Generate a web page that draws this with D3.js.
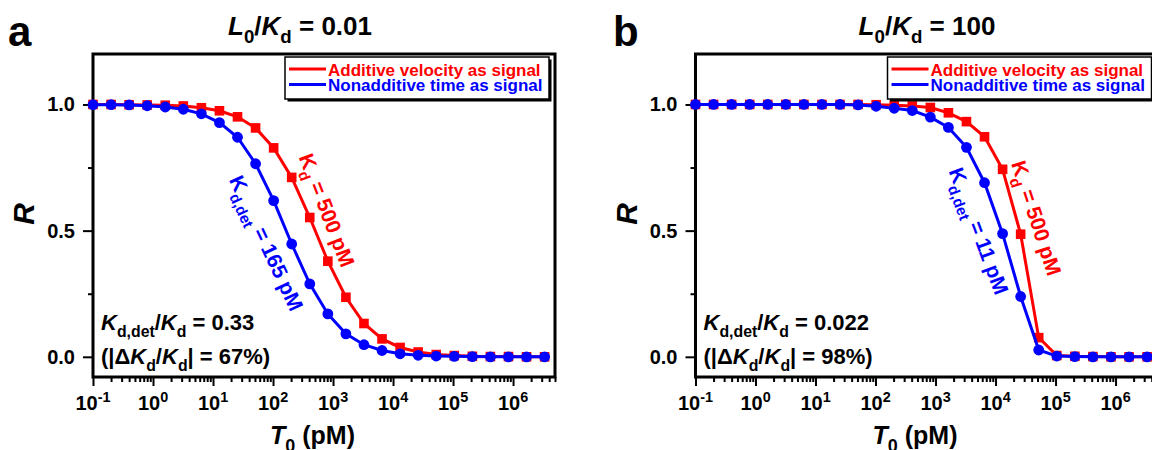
<!DOCTYPE html>
<html>
<head>
<meta charset="utf-8">
<script src="https://cdn.jsdelivr.net/npm/d3@7"></script>
<style>
  html, body { margin: 0; padding: 0; background: #fff; overflow: hidden; }
  svg { display: block; font-family: "Liberation Sans", Arial, sans-serif; font-weight: bold; }
</style>
</head>
<body>
<svg id="chart" width="1152" height="450"></svg>
<script>
// Total target concentration T0 (pM): two-fold dilution series
const T0 = [0.1, 0.2, 0.4, 0.8, 1.6, 3.2, 6.4, 12.8, 25.6, 51.2, 102.4, 204.8, 409.6,
            819.2, 1638.4, 3276.8, 6553.6, 13107.2, 26214.4, 52428.8, 104857.6,
            209715.2, 419430.4, 838860.8, 1677721.6, 3355443.2];

// Panel a (L0/Kd = 0.01)
const redA  = [1.000, 1.000, 0.999, 0.998, 0.997, 0.994, 0.987, 0.975, 0.951, 0.907, 0.828,
               0.711, 0.552, 0.379, 0.236, 0.132, 0.071, 0.037, 0.019, 0.009, 0.005,
               0.002, 0.001, 0.001, 0.000, 0.000];
const blueA = [0.999, 0.999, 0.998, 0.995, 0.990, 0.981, 0.963, 0.928, 0.870, 0.765, 0.619,
               0.447, 0.289, 0.170, 0.091, 0.048, 0.025, 0.012, 0.006, 0.003, 0.002,
               0.001, 0.000, 0.000, 0.000, 0.000];

// Panel b (L0/Kd = 100)
const redB  = [1.000, 1.000, 1.000, 1.000, 1.000, 1.000, 1.000, 1.000, 1.000, 1.000, 0.999,
               0.997, 0.994, 0.988, 0.967, 0.932, 0.872, 0.743, 0.486, 0.076, 0.005,
               0.002, 0.001, 0.000, 0.000, 0.000];
const blueB = [1.000, 1.000, 1.000, 1.000, 1.000, 1.000, 1.000, 1.000, 1.000, 0.998, 0.993,
               0.985, 0.976, 0.950, 0.909, 0.830, 0.690, 0.488, 0.239, 0.027, 0.003,
               0.001, 0.000, 0.000, 0.000, 0.000];

// Text content
const panelLetters = ["a", "b"];
const ratioL0Kd    = ["0.01", "100"];
const kdValue      = ["500", "500"];
const kdDetValue   = ["165", "11"];
const kdRatio      = ["0.33", "0.022"];
const kdChange     = ["67%", "98%"];
const seriesNames  = ["Additive velocity as signal", "Nonadditive time as signal"];
const xTickExp     = [-1, 0, 1, 2, 3, 4, 5, 6];
const yTicks       = [0, 0.5, 1.0];
const yMinorTicks  = [0.25, 0.75];

const RED = "#ff0000", BLUE = "#0000ff";

const svg = d3.select("#chart");

// Append text made of styled runs (italic / subscript / superscript)
function rich(text, parts, size) {
  let shift = 0;
  parts.forEach(p => {
    const ts = text.append("tspan").text(p.t);
    const target = p.sub ? size * 0.32 : (p.sup ? -size * 0.42 : 0);
    ts.attr("dy", target - shift);
    shift = target;
    ts.attr("font-size", (p.sub || p.sup) ? size * 0.72 : size);
    if (p.it) ts.attr("font-style", "italic");
  });
  return text;
}

const panels = [
  { left: 93,    red: redA, blue: blueA, titleX: 300, letterX: 8,
    redLab: { cx: 327, cy: 210, rot: 69 }, blueLab: { cx: 266.5, cy: 243, rot: 65 } },
  { left: 695.5, red: redB, blue: blueB, titleX: 927, letterX: 613,
    redLab: { cx: 1036.5, cy: 218, rot: 72 }, blueLab: { cx: 979, cy: 231, rot: 69.5 } }
];

panels.forEach((cfg, i) => {
  const L = cfg.left, TOP = 54, BOT = 377, PW = 462;
  const g = svg.append("g");
  const x = d3.scaleLog().domain([0.1, 5e6]).range([L, L + PW]);
  const y = d3.scaleLinear().domain([-0.08, 1.2]).range([BOT, TOP]);

  // plot frame
  g.append("rect")
    .attr("x", L).attr("y", TOP).attr("width", PW).attr("height", BOT - TOP)
    .attr("fill", "none").attr("stroke", "#000").attr("stroke-width", 3);

  // x axis ticks (log)
  const majors = xTickExp.map(e => Math.pow(10, e));
  const minors = [];
  xTickExp.forEach(e => { for (let m = 2; m <= 9; m++) { const v = m * Math.pow(10, e); if (v <= 5e6) minors.push(v); } });

  const styleAxis = s => { s.select(".domain").remove(); s.selectAll("line").attr("stroke", "#000").attr("stroke-width", 2); };

  g.append("g").attr("transform", `translate(0,${BOT})`)
    .call(d3.axisBottom(x).tickValues(majors).tickSize(9).tickFormat(""))
    .call(styleAxis);
  g.append("g").attr("transform", `translate(0,${BOT})`)
    .call(d3.axisBottom(x).tickValues(minors).tickSize(5).tickFormat(""))
    .call(styleAxis);

  // x tick labels 10^n
  xTickExp.forEach(e => {
    const t = g.append("text").attr("x", x(Math.pow(10, e))).attr("y", 410)
      .attr("text-anchor", "middle").attr("fill", "#000");
    rich(t, [{ t: "10" }, { t: String(e), sup: true }], 20);
  });

  // y axis
  g.append("g").attr("transform", `translate(${L},0)`)
    .call(d3.axisLeft(y).tickValues(yTicks).tickSize(10).tickPadding(8).tickFormat(d3.format(".1f")))
    .call(styleAxis)
    .call(s => s.selectAll("text").attr("font-size", 20).attr("font-weight", "bold")
      .attr("font-family", "'Liberation Sans', Arial, sans-serif").attr("fill", "#000"));
  g.append("g").attr("transform", `translate(${L},0)`)
    .call(d3.axisLeft(y).tickValues(yMinorTicks).tickSize(5).tickFormat(""))
    .call(styleAxis);

  // axis titles
  g.append("text").attr("transform", `translate(${L - 59},${214}) rotate(-90)`)
    .attr("text-anchor", "middle").attr("font-size", 30).attr("font-style", "italic").text("R");
  rich(g.append("text").attr("x", L + 177).attr("y", 444),
    [{ t: "T", it: true }, { t: "0", sub: true }, { t: " (pM)" }], 25);

  // panel title and letter
  rich(g.append("text").attr("x", cfg.titleX).attr("y", 34.5).attr("text-anchor", "middle"),
    [{ t: "L", it: true }, { t: "0", sub: true }, { t: "/" }, { t: "K", it: true }, { t: "d", sub: true },
     { t: " = " + ratioL0Kd[i] }], 26);
  g.append("text").attr("x", cfg.letterX).attr("y", 46).attr("font-size", 42).text(panelLetters[i]);

  // curves
  const pts = vals => T0.map((t, k) => [t, vals[k]]);
  const line = d3.line().x(d => x(d[0])).y(d => y(d[1]));

  g.append("path").datum(pts(cfg.red)).attr("d", line)
    .attr("fill", "none").attr("stroke", RED).attr("stroke-width", 3);
  g.append("g").selectAll("rect").data(pts(cfg.red)).join("rect")
    .attr("x", d => x(d[0]) - 4.8).attr("y", d => y(d[1]) - 4.8)
    .attr("width", 9.6).attr("height", 9.6).attr("fill", RED);

  g.append("path").datum(pts(cfg.blue)).attr("d", line)
    .attr("fill", "none").attr("stroke", BLUE).attr("stroke-width", 3);
  g.append("g").selectAll("circle").data(pts(cfg.blue)).join("circle")
    .attr("cx", d => x(d[0])).attr("cy", d => y(d[1])).attr("r", 5.4).attr("fill", BLUE);

  // legend
  const lx = L + 192, ly = 57, lw = 264, lh = 42;
  g.append("rect").attr("x", lx + 2.5).attr("y", ly + 2.5).attr("width", lw).attr("height", lh).attr("fill", "#000");
  g.append("rect").attr("x", lx).attr("y", ly).attr("width", lw).attr("height", lh)
    .attr("fill", "#fff").attr("stroke", "#000").attr("stroke-width", 1.5);
  [[RED, 69, 75.5], [BLUE, 84.5, 91]].forEach(([c, yl, yb], j) => {
    g.append("line").attr("x1", L + 196).attr("x2", L + 233).attr("y1", yl).attr("y2", yl)
      .attr("stroke", c).attr("stroke-width", 3);
    g.append("text").attr("x", L + 235).attr("y", yb).attr("font-size", 17).attr("fill", c).text(seriesNames[j]);
  });

  // in-plot annotations
  rich(g.append("text").attr("x", L + 8).attr("y", 330),
    [{ t: "K", it: true }, { t: "d,det", sub: true }, { t: "/" }, { t: "K", it: true }, { t: "d", sub: true },
     { t: " = " + kdRatio[i] }], 22);
  rich(g.append("text").attr("x", L + 8).attr("y", 364),
    [{ t: "(|\u0394" }, { t: "K", it: true }, { t: "d", sub: true }, { t: "/" }, { t: "K", it: true },
     { t: "d", sub: true }, { t: "| = " + kdChange[i] + ")" }], 22);

  const r = cfg.redLab, b = cfg.blueLab;
  rich(g.append("text").attr("transform", `translate(${r.cx},${r.cy}) rotate(${r.rot})`)
      .attr("text-anchor", "middle").attr("y", 7.5).attr("fill", RED),
    [{ t: "K" }, { t: "d", sub: true }, { t: " = " + kdValue[i] + " pM" }], 21);
  rich(g.append("text").attr("transform", `translate(${b.cx},${b.cy}) rotate(${b.rot})`)
      .attr("text-anchor", "middle").attr("y", 7.5).attr("fill", BLUE),
    [{ t: "K" }, { t: "d,det", sub: true }, { t: " = " + kdDetValue[i] + " pM" }], 21);
});
</script>
</body>
</html>
